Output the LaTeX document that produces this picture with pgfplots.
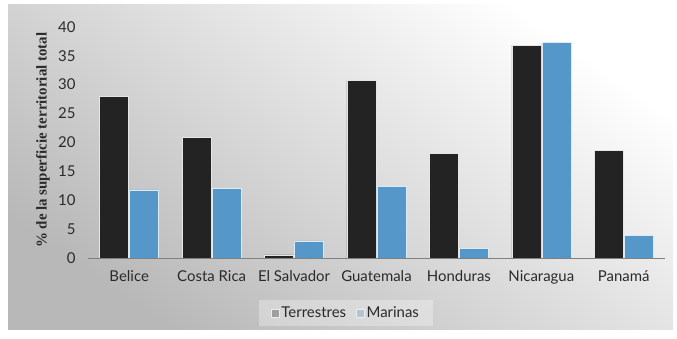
\documentclass[border=0pt]{standalone}
\usepackage{pgfplots}
\pgfplotsset{compat=1.18}
\usepackage{fontspec}
\setmainfont{Lato}
\newfontfamily\serifb{Liberation Serif}
\definecolor{darkbar}{HTML}{232323}
\definecolor{bluebar}{HTML}{5597C8}
\definecolor{txt}{HTML}{2A2A2A}
\begin{document}
\begin{tikzpicture}
\useasboundingbox (0,0) rectangle (677bp,339bp);
\fill[white] (0,0) rectangle (677bp,339bp);
\shade[shading=axis, top color=white, bottom color=black!28, shading angle=-35] (8bp,9bp) rectangle (673bp,334bp);
\begin{axis}[
  at={(88bp,80.7bp)}, anchor=south west,
  scale only axis, width=577bp, height=231.6bp,
  xmin=-0.5, xmax=6.5, ymin=0, ymax=40,
  ybar=1bp, bar width=29bp,
  axis on top,
  axis lines*=left,
  y axis line style={draw=none},
  x axis line style={draw=black!50, line width=0.8pt, -},
  major tick length=0pt,
  xtick={0,...,6},
  xticklabels={Belice, Costa Rica, El Salvador, Guatemala, Honduras, Nicaragua, Panamá},
  ytick={0,5,...,40},
  /pgf/number format/assume math mode=true,
  tick label style={font=\fontsize{15}{17}\selectfont, text=txt},
  yticklabel style={xshift=-9bp},
  xticklabel style={yshift=-9bp},
  ylabel={\% de la superficie territorial total},
  ylabel style={at={(axis description cs:-0.078,0.51)}, anchor=center, rotate=0, font=\serifb\bfseries\fontsize{15}{17}\selectfont, text=txt},
  legend columns=2,
  legend style={at={(axis description cs:0.447,-0.236)}, anchor=center, fill=white, fill opacity=0.3, text opacity=1, draw=none, font=\fontsize{15}{17}\selectfont, text=txt, inner xsep=12bp, inner ysep=5bp, /tikz/every even column/.append style={column sep=8bp}},
  legend image code/.code={\draw[#1, draw=white!85!gray, line width=0.5pt] (0bp,-4bp) rectangle (8bp,4bp);},
]
\addplot[fill=darkbar, draw=white!80!gray, line width=0.6pt] coordinates {(0,27.9) (1,20.9) (2,0.6) (3,30.7) (4,18.1) (5,36.8) (6,18.65)};
\addplot[fill=bluebar, draw=white!80!bluebar, line width=0.6pt] coordinates {(0,11.8) (1,12.1) (2,3.0) (3,12.4) (4,1.7) (5,37.3) (6,3.9)};
\legend{Terrestres, Marinas}
\end{axis}
\end{tikzpicture}
\end{document}
